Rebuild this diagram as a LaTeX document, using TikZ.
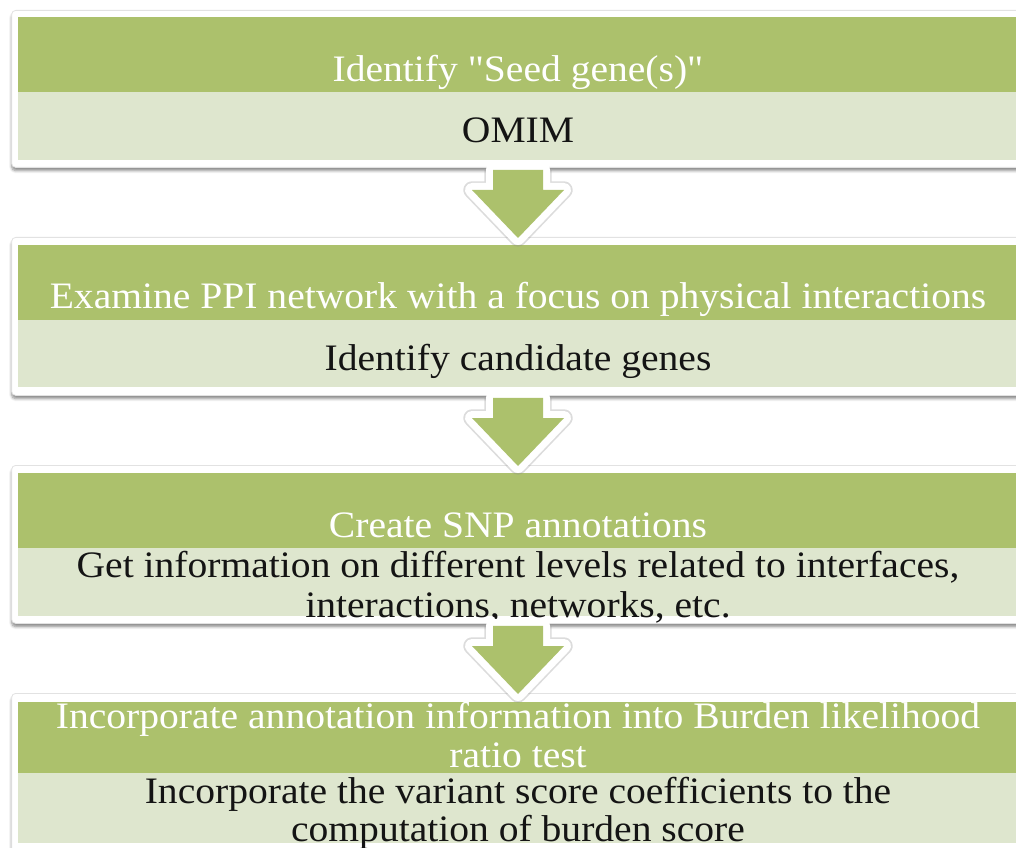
\documentclass[tikz,border=0pt]{standalone}
\usepackage{fontspec}
\setmainfont[FakeStretch=1.06]{Liberation Serif}
% same face without the TeX quote mapping, for straight double quotes
\newfontfamily\straightq[FakeStretch=1.06]{Liberation Serif}
\usetikzlibrary{calc,shadows.blur}
\definecolor{barGreen}{RGB}{172,193,108}
\definecolor{barLight}{RGB}{222,230,206}
\definecolor{edgeGray}{RGB}{226,226,226}
\begin{document}
\begin{tikzpicture}[x=0.75pt,y=-0.75pt,
  panel/.style={draw=edgeGray, line width=0.6pt, fill=white, rounded corners=3pt,
    inner sep=0pt, minimum width=770pt, anchor=north,
    blur shadow={shadow xshift=0pt, shadow yshift=-2.5pt, shadow blur steps=6,
      shadow blur radius=2pt, shadow opacity=45}},
  headbar/.style={fill=barGreen, inner sep=0pt, minimum width=760pt, anchor=north},
  bodybar/.style={fill=barLight, inner sep=0pt, minimum width=760pt, anchor=north},
  headtext/.style={text=white, font=\fontsize{28pt}{30pt}\selectfont, anchor=base, inner sep=0pt},
  bodytext/.style={text=black!92, font=\fontsize{28pt}{30pt}\selectfont, anchor=base, inner sep=0pt},
  arrowhalo/.style={draw=black!45, line width=13pt, line join=round, opacity=0.3},
  flowarrow/.style={fill=barGreen, preaction={draw=white, line width=10.5pt, line join=round}}
]
\useasboundingbox (0,0) rectangle (1016,848);
\clip (0,0) rectangle (1016,848);

% step 1
\node[panel, minimum height=117.75pt] (b1) at (525,10) {};
\node[headbar, minimum height=56.25pt] (h1) at (525,17) {};
\node[bodybar, minimum height=51pt] (d1) at (525,92) {};
\node[headtext] (h1t) at (518,82) {Identify {\straightq"}Seed gene(s){\straightq"}};
\node[bodytext] (d1t) at (518,143) {OMIM};

% step 2
\node[panel, minimum height=118.5pt] (b2) at (525,237) {};
\node[headbar, minimum height=56.25pt] (h2) at (525,245) {};
\node[bodybar, minimum height=50.25pt] (d2) at (525,320) {};
\node[headtext] (h2t) at (518,309) {Examine PPI network with a focus on physical interactions};
\node[bodytext] (d2t) at (518,370) {Identify candidate genes};

% step 3
\node[panel, minimum height=118.5pt] (b3) at (525,465) {};
\node[headbar, minimum height=56.25pt] (h3) at (525,473) {};
\node[bodybar, minimum height=51pt] (d3) at (525,548) {};
\node[headtext] (h3t) at (518,537) {Create SNP annotations};
\node[bodytext] (d3a) at (518,577) {Get information on different levels related to interfaces,};
\node[bodytext] (d3b) at (518,617) {interactions, networks, etc.};

% step 4
\node[panel, minimum height=126pt] (b4) at (525,693) {};
\node[headbar, minimum height=53.25pt] (h4) at (525,702) {};
\node[bodybar, minimum height=52.5pt] (d4) at (525,773) {};
\node[headtext] (h4a) at (518,728) {Incorporate annotation information into Burden likelihood};
\node[headtext] (h4b) at (518,767) {ratio test};
\node[bodytext] (d4a) at (518,803) {Incorporate the variant score coefficients to the};
\node[bodytext] (d4b) at (518,841) {computation of burden score};

% block arrows between the steps: soft halo, then white-edged green arrow
\foreach \s/\e in {b1/b2, b2/b3, b3/b4}{
  \path ($(\s.south)+(-7,0)$) coordinate (top) ($(\e.north)+(-7,0)$) coordinate (bot);
  \draw[arrowhalo, yshift=-1.5pt]
    ($(top)+(-25,2)$) -- ($(bot)+(-25,-47)$) -- ($(bot)+(-46,-47)$)
    -- ($(bot)+(0,1)$) -- ($(bot)+(46,-47)$) -- ($(bot)+(25,-47)$)
    -- ($(top)+(25,2)$);
  \path[flowarrow]
    ($(top)+(-25,2)$) -- ($(bot)+(-25,-47)$) -- ($(bot)+(-46,-47)$)
    -- ($(bot)+(0,1)$) -- ($(bot)+(46,-47)$) -- ($(bot)+(25,-47)$)
    -- ($(top)+(25,2)$) -- cycle;
}
\end{tikzpicture}
\end{document}
